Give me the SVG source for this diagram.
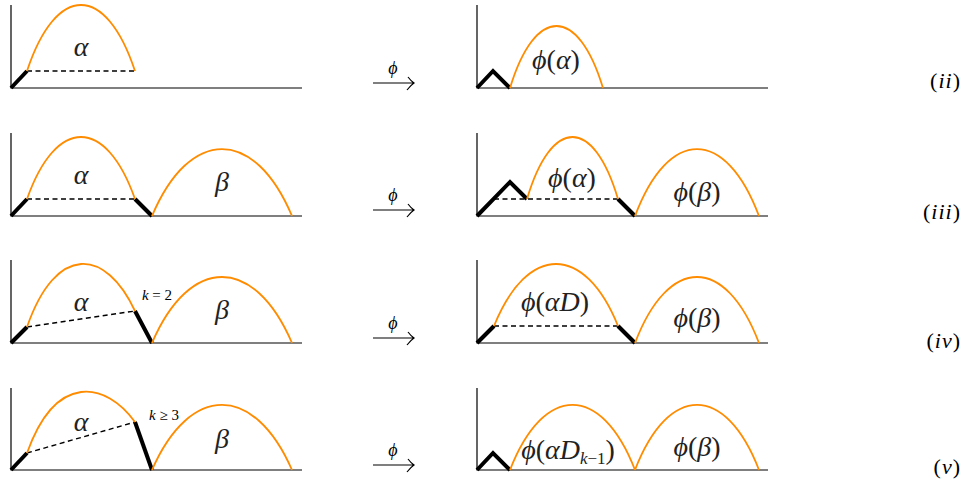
<svg xmlns="http://www.w3.org/2000/svg" width="966" height="485" viewBox="0 0 966 485">
<style>
.ax{stroke:#000;stroke-width:1.2;fill:none}
.th{stroke:#000;stroke-width:4;fill:none;stroke-linecap:butt;stroke-linejoin:miter}
.ds{stroke:#000;stroke-width:1.4;fill:none;stroke-dasharray:5 3.5}
.or{stroke:#FF8C00;stroke-width:1.8;fill:none}
.ar{stroke:#000;stroke-width:1.2;fill:none}
</style>
<g id="connectors">
<path class="ar" d="M373,83 H414 M408,77 Q411,81 414,83 Q411,85 407,90"/>
<path class="ar" d="M373,210 H414 M408,204 Q411,208 414,210 Q411,212 407,217"/>
<path class="ar" d="M373,338 H414 M408,332 Q411,336 414,338 Q411,340 407,345"/>
<path class="ar" d="M373,465 H414 M408,459 Q411,463 414,465 Q411,467 407,472"/>
<text style="font-family:'Liberation Serif',serif !important" font-family="Liberation Serif" font-size="18" font-style="italic" x="393" y="74" text-anchor="middle">ϕ</text>
<text style="font-family:'Liberation Serif',serif !important" font-family="Liberation Serif" font-size="18" font-style="italic" x="393" y="201" text-anchor="middle">ϕ</text>
<text style="font-family:'Liberation Serif',serif !important" font-family="Liberation Serif" font-size="18" font-style="italic" x="393" y="329" text-anchor="middle">ϕ</text>
<text style="font-family:'Liberation Serif',serif !important" font-family="Liberation Serif" font-size="18" font-style="italic" x="393" y="456" text-anchor="middle">ϕ</text>
</g>
<g id="row1-left">
<path class="ax" d="M11,5 V88 H302"/>
<path class="th" d="M11,88 L27,71"/>
<path class="ds" d="M27,71 H135"/>
<path class="or" d="M27,71 C56.2,-17 105.8,-17 135,71"/>
<text style="font-family:'Liberation Serif',serif !important" font-family="Liberation Serif" font-size="28" fill="#222" font-style="italic" x="81" y="56" text-anchor="middle">α</text>
</g>
<g id="row1-right">
<path class="ax" d="M477,5 V88 H768"/>
<path class="th" d="M477,88 L493,71 L510,88"/>
<path class="or" d="M510,88 C535.1,5.3 577.9,5.3 603,88"/>
<text style="font-family:'Liberation Serif',serif !important" font-family="Liberation Serif" font-size="28" fill="#222" x="556" y="69" text-anchor="middle"><tspan font-style="italic">ϕ</tspan>(<tspan font-style="italic">α</tspan>)</text>
</g>
<g id="label-ii"><text style="font-family:'Liberation Serif',serif !important" font-family="Liberation Serif" font-size="22" letter-spacing="1" x="961" y="88" text-anchor="end">(<tspan font-style="italic">ii</tspan>)</text></g>
<g id="row2-left">
<path class="ax" d="M11,133 V216 H302"/>
<path class="th" d="M11,216 L27,199"/>
<path class="ds" d="M27,199 H135"/>
<path class="th" d="M135,199 L152,216"/>
<path class="or" d="M27,199 C56.2,116.3 105.8,116.3 135,199"/>
<path class="or" d="M152,216 C189.8,126.7 254.2,126.7 292,216"/>
<text style="font-family:'Liberation Serif',serif !important" font-family="Liberation Serif" font-size="28" fill="#222" font-style="italic" x="81" y="184" text-anchor="middle">α</text>
<text style="font-family:'Liberation Serif',serif !important" font-family="Liberation Serif" font-size="28" fill="#222" font-style="italic" x="222" y="191" text-anchor="middle">β</text>
</g>
<g id="row2-right">
<path class="ax" d="M477,133 V216 H768"/>
<path class="th" d="M477,216 L510,182 L527,199"/>
<path class="ds" d="M494,199 H618"/>
<path class="th" d="M618,199 L635,216"/>
<path class="or" d="M527,199 C551.6,116.3 593.4,116.3 618,199"/>
<path class="or" d="M635,216 C668.5,126.7 725.5,126.7 759,216"/>
<text style="font-family:'Liberation Serif',serif !important" font-family="Liberation Serif" font-size="28" fill="#222" x="572" y="187" text-anchor="middle"><tspan font-style="italic">ϕ</tspan>(<tspan font-style="italic">α</tspan>)</text>
<text style="font-family:'Liberation Serif',serif !important" font-family="Liberation Serif" font-size="28" fill="#222" x="697" y="201" text-anchor="middle"><tspan font-style="italic">ϕ</tspan>(<tspan font-style="italic">β</tspan>)</text>
</g>
<g id="label-iii"><text style="font-family:'Liberation Serif',serif !important" font-family="Liberation Serif" font-size="22" letter-spacing="1" x="961" y="219" text-anchor="end">(<tspan font-style="italic">iii</tspan>)</text></g>
<g id="row3-left">
<path class="ax" d="M11,260 V343 H302"/>
<path class="th" d="M11,343 L27,327"/>
<path class="ds" d="M27,327 L135,311"/>
<path class="th" d="M135,311 L152,343"/>
<path class="or" d="M27,327 C56.2,243 105.8,248.3 135,311"/>
<path class="or" d="M152,343 C189.8,255 254.2,255 292,343"/>
<text style="font-family:'Liberation Serif',serif !important" font-family="Liberation Serif" font-size="28" fill="#222" font-style="italic" x="81" y="311" text-anchor="middle">α</text>
<text style="font-family:'Liberation Serif',serif !important" font-family="Liberation Serif" font-size="28" fill="#222" font-style="italic" x="222" y="319" text-anchor="middle">β</text>
<text style="font-family:'Liberation Serif',serif !important" font-family="Liberation Serif" font-size="15" x="157" y="300" text-anchor="middle"><tspan font-style="italic">k</tspan> = 2</text>
</g>
<g id="row3-right">
<path class="ax" d="M477,260 V343 H768"/>
<path class="th" d="M477,343 L494,326"/>
<path class="ds" d="M494,326 H618"/>
<path class="th" d="M618,326 L635,343"/>
<path class="or" d="M494,326 C527.5,243.3 584.5,243.3 618,326"/>
<path class="or" d="M635,343 C668.5,255 725.5,255 759,343"/>
<text style="font-family:'Liberation Serif',serif !important" font-family="Liberation Serif" font-size="28" fill="#222" x="555" y="311" text-anchor="middle"><tspan font-style="italic">ϕ</tspan>(<tspan font-style="italic">αD</tspan>)</text>
<text style="font-family:'Liberation Serif',serif !important" font-family="Liberation Serif" font-size="28" fill="#222" x="697" y="327" text-anchor="middle"><tspan font-style="italic">ϕ</tspan>(<tspan font-style="italic">β</tspan>)</text>
</g>
<g id="label-iv"><text style="font-family:'Liberation Serif',serif !important" font-family="Liberation Serif" font-size="22" letter-spacing="1" x="961" y="348" text-anchor="end">(<tspan font-style="italic">iv</tspan>)</text></g>
<g id="row4-left">
<path class="ax" d="M11,388 V470 H302"/>
<path class="th" d="M11,470 L27,453"/>
<path class="ds" d="M27,453 L135,422"/>
<path class="th" d="M135,422 L152,470"/>
<path class="or" d="M27,453 C56.2,371.7 105.8,382 135,422"/>
<path class="or" d="M152,470 C189.8,383.3 254.2,383.3 292,470"/>
<text style="font-family:'Liberation Serif',serif !important" font-family="Liberation Serif" font-size="28" fill="#222" font-style="italic" x="81" y="431" text-anchor="middle">α</text>
<text style="font-family:'Liberation Serif',serif !important" font-family="Liberation Serif" font-size="28" fill="#222" font-style="italic" x="222" y="448" text-anchor="middle">β</text>
<text style="font-family:'Liberation Serif',serif !important" font-family="Liberation Serif" font-size="15" x="164" y="420" text-anchor="middle"><tspan font-style="italic">k</tspan> ≥ 3</text>
</g>
<g id="row4-right">
<path class="ax" d="M477,388 V470 H768"/>
<path class="th" d="M477,470 L493,453 L510,470"/>
<path class="or" d="M510,470 C543.75,383.3 601.25,383.3 635,470"/>
<path class="or" d="M635,470 C668.5,383.3 725.5,383.3 759,470"/>
<text style="font-family:'Liberation Serif',serif !important" font-family="Liberation Serif" font-size="28" fill="#222" x="568" y="459" text-anchor="middle"><tspan font-style="italic">ϕ</tspan>(<tspan font-style="italic">αD</tspan><tspan font-style="italic" font-size="17" dy="5">k</tspan><tspan font-size="17">−1</tspan><tspan dy="-5">)</tspan></text>
<text style="font-family:'Liberation Serif',serif !important" font-family="Liberation Serif" font-size="28" fill="#222" x="697" y="456" text-anchor="middle"><tspan font-style="italic">ϕ</tspan>(<tspan font-style="italic">β</tspan>)</text>
</g>
<g id="label-v"><text style="font-family:'Liberation Serif',serif !important" font-family="Liberation Serif" font-size="22" letter-spacing="1" x="961" y="474" text-anchor="end">(<tspan font-style="italic">v</tspan>)</text></g>
</svg>
